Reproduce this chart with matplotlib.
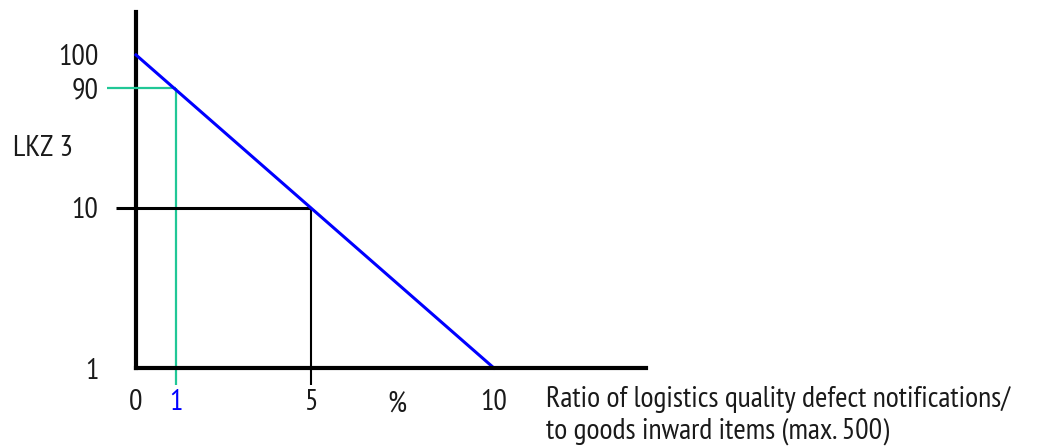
import numpy as np
import matplotlib
matplotlib.use('Agg')
import matplotlib.pyplot as plt

plt.rcParams['font.family'] = ['PT Sans Narrow', 'DejaVu Sans']

# data of the schematic
line_x = [0, 10]
line_y = [100, 1]
green_pt = (1, 90)
black_pt = (5, 10)
x_ticks = [0, 1, 5, 10]
x_tick_labels = ['0', '1', '5', '10']
y_ticks = [1, 10, 90, 100]
y_tick_labels = ['1', '10', '90', '100']

# the chart is not to scale: value -> drawn position (px)
x_vals = [-5, 0, 1, 5, 10, 20]
x_pos = [-179, 0, 40, 175, 358, 716]
y_vals = [-100, 1, 10, 90, 100, 200]
y_pos = [-1796, 0, 160, 280, 313, 643]

fx = lambda v: np.interp(v, x_vals, x_pos)
fx_inv = lambda p: np.interp(p, x_pos, x_vals)
fy = lambda v: np.interp(v, y_vals, y_pos)
fy_inv = lambda p: np.interp(p, y_pos, y_vals)

W, H = 1039, 448
FS = 21.5
TXT = '#1a1a1a'
fig = plt.figure(figsize=(W / 100, H / 100), dpi=100)
ax = fig.add_axes([136 / W, 80 / H, 510 / W, 356 / H])
ax.set_xscale('function', functions=(fx, fx_inv))
ax.set_yscale('function', functions=(fy, fy_inv))
ax.set_xlim(0, 14.25)
ax.set_ylim(1, 113)

green = '#21c796'
# helper lines
ax.plot([-0.81, green_pt[0]], [green_pt[1], green_pt[1]], color=green, lw=1.6, clip_on=False, solid_capstyle='butt')
ax.plot([green_pt[0], green_pt[0]], [green_pt[1], 0.05], color=green, lw=1.6, clip_on=False, solid_capstyle='butt')
ax.plot([-0.56, black_pt[0]], [black_pt[1], black_pt[1]], color='black', lw=2.2, clip_on=False, solid_capstyle='butt')
ax.plot([black_pt[0], black_pt[0]], [black_pt[1], 0.05], color='black', lw=1.5, clip_on=False, solid_capstyle='butt')
# main line
ax.plot(line_x, line_y, color='#0000ff', lw=2.2, clip_on=False)

for s in ['top', 'right']:
    ax.spines[s].set_visible(False)
for s in ['left', 'bottom']:
    ax.spines[s].set_linewidth(3)
    ax.spines[s].set_color('black')
ax.spines['left'].set_zorder(1)

ax.set_xticks(x_ticks)
ax.set_xticklabels(x_tick_labels)
ax.set_yticks(y_ticks)
ax.set_yticklabels(y_tick_labels)
ax.minorticks_off()
ax.tick_params(axis='both', length=0, labelsize=FS, labelcolor=TXT)
ax.tick_params(axis='x', pad=15)
ax.tick_params(axis='y', pad=27)
ax.get_xticklabels()[1].set_color('#0000ff')

fig.text(13 / W, 1 - 149 / H, 'LKZ 3', fontsize=FS, color=TXT, ha='left', va='center')
fig.text(397 / W, 1 - 404 / H, '%', fontsize=FS, color=TXT, ha='center', va='center')
fig.text(546 / W, 1 - 386 / H,
         'Ratio of logistics quality defect notifications/\nto goods inward items (max. 500)',
         fontsize=FS, color=TXT, ha='left', va='top', linespacing=1.23)

fig.savefig('out.png', dpi=100)
